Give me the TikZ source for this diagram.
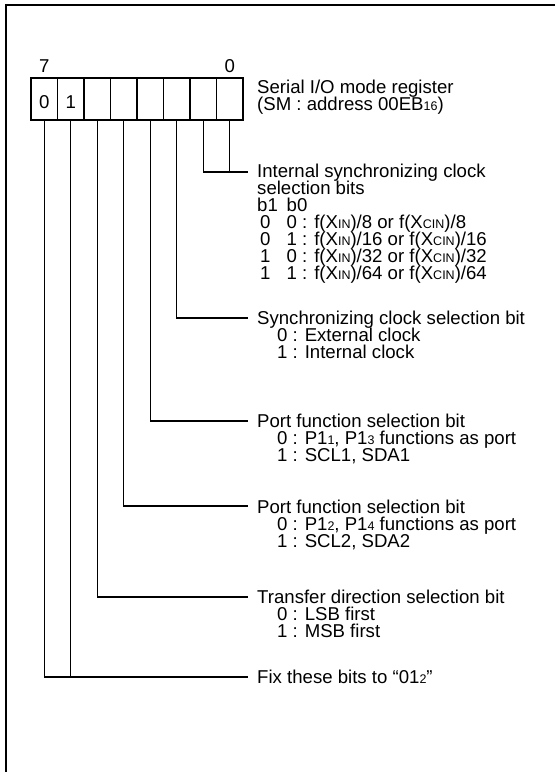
\documentclass[tikz,border=0pt]{standalone}
\usepackage{fontspec}
\setmainfont{Liberation Sans}
\newcommand{\sbs}[1]{\raisebox{-0.8pt}{\fontsize{12.5}{12.5}\selectfont #1}}
\begin{document}
\begin{tikzpicture}[x=1pt,y=-1pt,
  txt/.style={anchor=base west, inner sep=0pt, font=\fontsize{18.6}{18.6}\selectfont},
  dig/.style={anchor=base, inner sep=0pt, font=\fontsize{18.6}{18.6}\selectfont},
  cell/.style={draw, line width=1.6pt, minimum width=26.5pt, minimum height=42pt, inner sep=0pt, outer sep=0pt},
  lead/.style={line width=1.2pt},
  frame/.style={line width=2.4pt}]
\useasboundingbox (0,0) rectangle (555,772);
% frame
\draw[frame] (555,5) -- (6,5) -- (6,772);
% register cells
\foreach \i/\x in {7/44.25,6/70.75,5/97.25,4/123.75,3/150.25,2/176.75,1/203.25,0/229.75}
  \node[cell] (c\i) at (\x,99) {};
\draw[line width=2.8pt] (c7.north west) rectangle (c0.south east);
\node[dig] (b7) at (44.25,72) {7};
\node[dig] (b0) at (229.75,72) {0};
\node[dig] (d7) at (44.25,108) {0};
\node[dig] (d6) at (70.75,108) {1};
% register title
\node[txt] (ta) at (257,93) {Serial I/O mode register};
\node[txt] (tb) at (257,110) {(SM : address 00EB\sbs{16})};
% block 1: bits 1,0
\coordinate (j1) at (248,172);
\draw[lead] (c1.south) |- (j1);
\draw[lead] (c0.south) |- (j1);
\node[txt] (k1) at (257,177) {Internal synchronizing clock};
\node[txt] (k2) at (257,194) {selection bits};
\node[txt] (k3) at (257,211) {b1};
\node[txt] (k4) at (286.5,211) {b0};
\node[txt] (r1a) at (260,228) {0};
\node[txt] (r1b) at (286.5,228) {0 : f(X\sbs{IN})/8 or f(X\sbs{CIN})/8};
\node[txt] (r2a) at (260,245) {0};
\node[txt] (r2b) at (286.5,245) {1 : f(X\sbs{IN})/16 or f(X\sbs{CIN})/16};
\node[txt] (r3a) at (260,262) {1};
\node[txt] (r3b) at (286.5,262) {0 : f(X\sbs{IN})/32 or f(X\sbs{CIN})/32};
\node[txt] (r4a) at (260,279) {1};
\node[txt] (r4b) at (286.5,279) {1 : f(X\sbs{IN})/64 or f(X\sbs{CIN})/64};
% block 2: bit 2
\coordinate (j2) at (248,318);
\draw[lead] (c2.south) |- (j2);
\node[txt] (s1) at (257,324) {Synchronizing clock selection bit};
\node[txt] (s2) at (277,341) {0 : External clock};
\node[txt] (s3) at (277,358) {1 : Internal clock};
% block 3: bit 3
\coordinate (j3) at (248,421);
\draw[lead] (c3.south) |- (j3);
\node[txt] (p1) at (257,427) {Port function selection bit};
\node[txt] (p2) at (277,444) {0 : P1\sbs{1}, P1\sbs{3} functions as port};
\node[txt] (p3) at (277,461) {1 : SCL1, SDA1};
% block 4: bit 4
\coordinate (j4) at (248,506);
\draw[lead] (c4.south) |- (j4);
\node[txt] (q1) at (257,513) {Port function selection bit};
\node[txt] (q2) at (277,530) {0 : P1\sbs{2}, P1\sbs{4} functions as port};
\node[txt] (q3) at (277,547) {1 : SCL2, SDA2};
% block 5: bit 5
\coordinate (j5) at (248,597);
\draw[lead] (c5.south) |- (j5);
\node[txt] (u1) at (257,603) {Transfer direction selection bit};
\node[txt] (u2) at (277,620) {0 : LSB first};
\node[txt] (u3) at (277,637) {1 : MSB first};
% block 6: bits 7,6
\coordinate (j6) at (248,677);
\draw[lead] (c7.south) |- (j6);
\draw[lead] (c6.south) |- (j6);
\node[txt] (f1) at (257,683) {Fix these bits to “01\sbs{2}”};
\end{tikzpicture}
\end{document}
